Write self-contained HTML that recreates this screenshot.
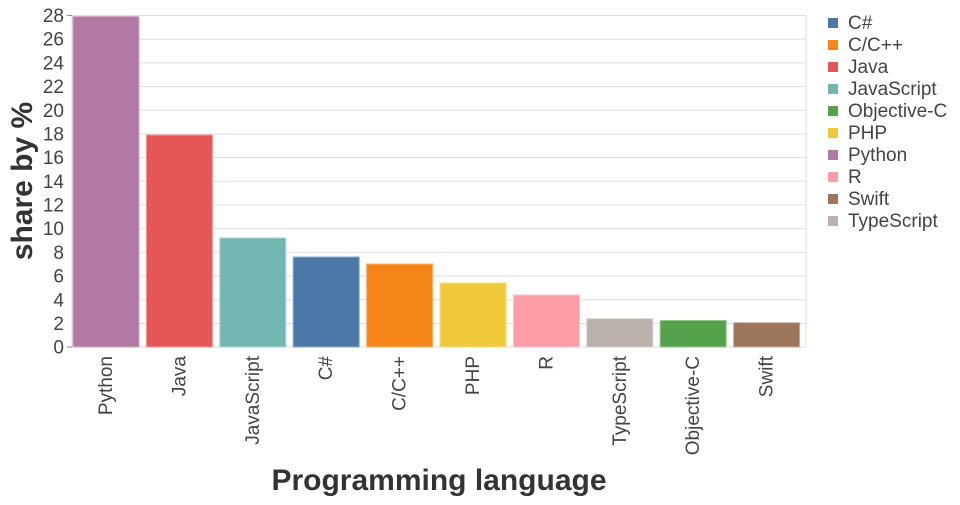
<!DOCTYPE html><html><head><style>body{margin:0;background:#fff}svg{font-family:"Liberation Sans",sans-serif}</style></head><body>
<svg width="960" height="500" xmlns="http://www.w3.org/2000/svg">
<g stroke="#ddd" stroke-width="1">
<line x1="72" x2="806" y1="15.5" y2="15.5"/><line x1="72" x2="806" y1="39.2" y2="39.2"/><line x1="72" x2="806" y1="62.9" y2="62.9"/><line x1="72" x2="806" y1="86.6" y2="86.6"/><line x1="72" x2="806" y1="110.3" y2="110.3"/><line x1="72" x2="806" y1="134" y2="134"/><line x1="72" x2="806" y1="157.6" y2="157.6"/><line x1="72" x2="806" y1="181.3" y2="181.3"/><line x1="72" x2="806" y1="205" y2="205"/><line x1="72" x2="806" y1="228.7" y2="228.7"/><line x1="72" x2="806" y1="252.4" y2="252.4"/><line x1="72" x2="806" y1="276.1" y2="276.1"/><line x1="72" x2="806" y1="299.8" y2="299.8"/><line x1="72" x2="806" y1="323.5" y2="323.5"/>
<line x1="72" x2="806" y1="347" y2="347"/><line x1="72" x2="72" y1="15.5" y2="347"/><line x1="806" x2="806" y1="15.5" y2="347"/>
</g>
<g stroke-width="1">
<rect x="73" y="16.6" width="66" height="330.4" fill="#b279a2" stroke="#d0a6c5"/>
<rect x="146.4" y="135" width="66" height="212" fill="#e45756" stroke="#f19a99"/>
<rect x="219.8" y="238" width="66" height="109" fill="#72b7b2" stroke="#a8d6d2"/>
<rect x="293.2" y="257" width="66" height="90" fill="#4c78a8" stroke="#8aa9cc"/>
<rect x="366.6" y="264" width="66" height="83" fill="#f58518" stroke="#f9b36c"/>
<rect x="440" y="283" width="66" height="64" fill="#eeca3b" stroke="#f5dd80"/>
<rect x="513.4" y="295" width="66" height="52" fill="#ff9da6" stroke="#ffc4c9"/>
<rect x="586.8" y="318.7" width="66" height="28.3" fill="#bab0ac" stroke="#d8d1ce"/>
<rect x="660.2" y="320.5" width="66" height="26.5" fill="#54a24b" stroke="#93c88c"/>
<rect x="733.6" y="322.7" width="66" height="24.3" fill="#9d755d" stroke="#c9ad9d"/>
</g>
<g fill="#444" font-size="19" text-anchor="end">
<text x="64" y="22">28</text><text x="64" y="45.7">26</text><text x="64" y="69.4">24</text><text x="64" y="93.1">22</text><text x="64" y="116.8">20</text><text x="64" y="140.5">18</text><text x="64" y="164.1">16</text><text x="64" y="187.8">14</text><text x="64" y="211.5">12</text><text x="64" y="235.2">10</text><text x="64" y="258.9">8</text><text x="64" y="282.6">6</text><text x="64" y="306.3">4</text><text x="64" y="330">2</text><text x="64" y="353.5">0</text>
</g>
<g stroke="#888"><line x1="67" x2="72" y1="15.5" y2="15.5"/><line x1="67" x2="72" y1="347" y2="347"/></g>
<g fill="#444" font-size="19" text-anchor="end">
<text transform="translate(112,356) rotate(-90)">Python</text>
<text transform="translate(185.4,356) rotate(-90)">Java</text>
<text transform="translate(258.8,356) rotate(-90)">JavaScript</text>
<text transform="translate(332.2,356) rotate(-90)">C#</text>
<text transform="translate(405.6,356) rotate(-90)">C/C++</text>
<text transform="translate(479,356) rotate(-90)">PHP</text>
<text transform="translate(552.4,356) rotate(-90)">R</text>
<text transform="translate(625.8,356) rotate(-90)">TypeScript</text>
<text transform="translate(699.2,356) rotate(-90)">Objective-C</text>
<text transform="translate(772.6,356) rotate(-90)">Swift</text>
</g>
<text x="439" y="490" text-anchor="middle" font-size="30" font-weight="bold" fill="#333">Programming language</text>
<text transform="translate(32,181) rotate(-90)" text-anchor="middle" font-size="30" font-weight="bold" fill="#333">share by %</text>
<g font-size="19" fill="#444">
<rect x="828" y="18" width="10" height="10" fill="#4c78a8"/><text x="848" y="29">C#</text>
<rect x="828" y="40" width="10" height="10" fill="#f58518"/><text x="848" y="51">C/C++</text>
<rect x="828" y="62" width="10" height="10" fill="#e45756"/><text x="848" y="73">Java</text>
<rect x="828" y="84" width="10" height="10" fill="#72b7b2"/><text x="848" y="95">JavaScript</text>
<rect x="828" y="106" width="10" height="10" fill="#54a24b"/><text x="848" y="117">Objective-C</text>
<rect x="828" y="128" width="10" height="10" fill="#eeca3b"/><text x="848" y="139">PHP</text>
<rect x="828" y="150" width="10" height="10" fill="#b279a2"/><text x="848" y="161">Python</text>
<rect x="828" y="172" width="10" height="10" fill="#ff9da6"/><text x="848" y="183">R</text>
<rect x="828" y="194" width="10" height="10" fill="#9d755d"/><text x="848" y="205">Swift</text>
<rect x="828" y="216" width="10" height="10" fill="#bab0ac"/><text x="848" y="227">TypeScript</text>
</g>
</svg></body></html>
